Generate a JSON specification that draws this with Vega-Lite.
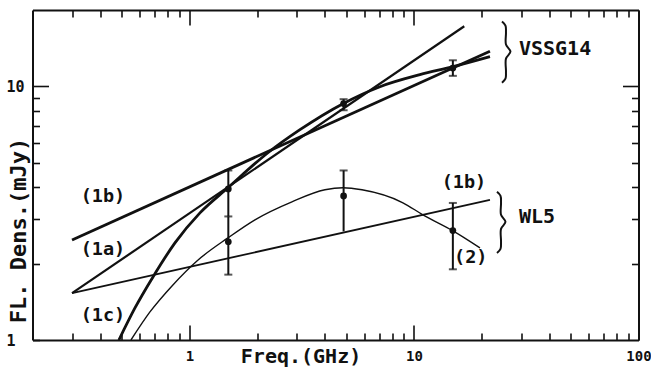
{
  "$schema": "https://vega.github.io/schema/vega-lite/v6.json",
  "width": 606,
  "height": 330,
  "autosize": {"type": "none"},
  "padding": {"left": 32.5, "top": 10, "right": 12.5, "bottom": 28},
  "background": "white",
  "config": {"view": {"stroke": null}, "font": "DejaVu Sans Mono"},
  "datasets": {
    "lines": [
      {"series": "V1a", "f": 0.3, "S": 1.53}, {"series": "V1a", "f": 16.75, "S": 17.26},
      {"series": "V1b", "f": 0.3, "S": 2.48}, {"series": "V1b", "f": 21.8, "S": 13.75},
      {"series": "V1c", "f": 0.485, "S": 1.0}, {"series": "V1c", "f": 0.572, "S": 1.338},
      {"series": "V1c", "f": 0.688, "S": 1.773}, {"series": "V1c", "f": 0.862, "S": 2.415},
      {"series": "V1c", "f": 1.114, "S": 3.171}, {"series": "V1c", "f": 1.484, "S": 3.982},
      {"series": "V1c", "f": 2.237, "S": 5.474}, {"series": "V1c", "f": 3.107, "S": 6.747},
      {"series": "V1c", "f": 4.828, "S": 8.545}, {"series": "V1c", "f": 7.058, "S": 9.97},
      {"series": "V1c", "f": 10.63, "S": 11.12}, {"series": "V1c", "f": 14.92, "S": 11.96},
      {"series": "V1c", "f": 21.8, "S": 13.1},
      {"series": "W1b", "f": 0.3, "S": 1.53}, {"series": "W1b", "f": 21.8, "S": 3.57},
      {"series": "W2", "f": 0.549, "S": 1.0}, {"series": "W2", "f": 0.667, "S": 1.29},
      {"series": "W2", "f": 0.844, "S": 1.649}, {"series": "W2", "f": 1.08, "S": 2.05},
      {"series": "W2", "f": 1.484, "S": 2.527}, {"series": "W2", "f": 1.958, "S": 2.978},
      {"series": "W2", "f": 2.861, "S": 3.506}, {"series": "W2", "f": 4.014, "S": 3.91},
      {"series": "W2", "f": 4.828, "S": 3.982}, {"series": "W2", "f": 5.867, "S": 3.91},
      {"series": "W2", "f": 8.93, "S": 3.475}, {"series": "W2", "f": 10.96, "S": 3.115},
      {"series": "W2", "f": 14.92, "S": 2.694}, {"series": "W2", "f": 19.68, "S": 2.308}
    ],
    "errs": [
      {"src": "VSSG14", "f": 1.49, "lo": 3.07, "hi": 4.66},
      {"src": "WL5", "f": 1.49, "lo": 1.81, "hi": 3.07},
      {"src": "VSSG14", "f": 4.86, "lo": 8.05, "hi": 8.9},
      {"src": "WL5", "f": 4.86, "lo": 2.68, "hi": 4.66},
      {"src": "VSSG14", "f": 14.9, "lo": 11.0, "hi": 12.67},
      {"src": "WL5", "f": 14.9, "lo": 1.9, "hi": 3.47}
    ],
    "caps": [
      {"f": 1.49, "S": 4.66}, {"f": 1.49, "S": 1.81}, {"f": 1.49, "S": 3.07},
      {"f": 4.86, "S": 8.9}, {"f": 4.86, "S": 8.05}, {"f": 4.86, "S": 4.66},
      {"f": 14.9, "S": 12.67}, {"f": 14.9, "S": 11.0}, {"f": 14.9, "S": 3.47}, {"f": 14.9, "S": 1.9}
    ],
    "pts": [
      {"src": "VSSG14", "f": 1.49, "S": 3.94}, {"src": "VSSG14", "f": 4.86, "S": 8.55},
      {"src": "VSSG14", "f": 14.9, "S": 11.8},
      {"src": "WL5", "f": 1.49, "S": 2.44}, {"src": "WL5", "f": 4.86, "S": 3.7},
      {"src": "WL5", "f": 14.9, "S": 2.7}
    ],
    "labels": [
      {"t": "(1b)", "f": 0.412, "S": 3.7}, {"t": "(1a)", "f": 0.412, "S": 2.29},
      {"t": "(1c)", "f": 0.412, "S": 1.255}, {"t": "(1b)", "f": 16.7, "S": 4.2},
      {"t": "(2)", "f": 17.9, "S": 2.13}
    ],
    "names": [
      {"t": "VSSG14", "f": 42.5, "S": 14.09}, {"t": "WL5", "f": 35.3, "S": 3.045}
    ],
    "braces": [
      {"b": "VSSG14", "i": 0, "f": 24.66, "S": 18.01},
      {"b": "VSSG14", "i": 1, "f": 25.56, "S": 17.36},
      {"b": "VSSG14", "i": 2, "f": 25.69, "S": 16.29},
      {"b": "VSSG14", "i": 3, "f": 25.69, "S": 14.61},
      {"b": "VSSG14", "i": 4, "f": 26.9, "S": 13.71},
      {"b": "VSSG14", "i": 5, "f": 25.69, "S": 12.86},
      {"b": "VSSG14", "i": 6, "f": 25.69, "S": 11.43},
      {"b": "VSSG14", "i": 7, "f": 25.56, "S": 10.72},
      {"b": "VSSG14", "i": 8, "f": 24.66, "S": 10.34},
      {"b": "WL5", "i": 0, "f": 23.43, "S": 3.84},
      {"b": "WL5", "i": 1, "f": 24.29, "S": 3.702},
      {"b": "WL5", "i": 2, "f": 24.42, "S": 3.474},
      {"b": "WL5", "i": 3, "f": 24.42, "S": 3.115},
      {"b": "WL5", "i": 4, "f": 25.56, "S": 2.923},
      {"b": "WL5", "i": 5, "f": 24.42, "S": 2.743},
      {"b": "WL5", "i": 6, "f": 24.42, "S": 2.437},
      {"b": "WL5", "i": 7, "f": 24.29, "S": 2.287},
      {"b": "WL5", "i": 8, "f": 23.43, "S": 2.205}
    ]
  },
  "resolve": {"axis": {"x": "independent", "y": "independent"}},
  "layer": [
    {
      "data": {"name": "lines"},
      "transform": [{"filter": "datum.series == 'V1b' || datum.series == 'V1c'"}],
      "mark": {"type": "line", "interpolate": "monotone", "color": "#111", "strokeWidth": 2.8, "clip": true},
      "encoding": {
        "x": {"field": "f", "type": "quantitative",
          "scale": {"type": "log", "domain": [0.2, 100], "nice": false},
          "axis": {
            "orient": "bottom",
            "values": [0.3, 0.4, 0.5, 0.6, 0.7, 0.8, 0.9, 1, 2, 3, 4, 5, 6, 7, 8, 9, 10, 20, 30, 40, 50, 60, 70, 80, 90, 100],
            "grid": false,
            "tickSize": {"condition": {"test": "datum.value == 1 || datum.value == 10 || datum.value == 100", "value": -15}, "value": -7},
            "tickColor": "#111", "tickWidth": 1.6,
            "domainColor": "#111", "domainWidth": 2,
            "labelExpr": "datum.value == 1 || datum.value == 10 || datum.value == 100 ? format(datum.value, 'd') : ''",
            "labelFlush": false, "labelOverlap": false,
            "labelFont": "DejaVu Sans Mono", "labelFontWeight": "bold", "labelFontSize": 14,
            "labelColor": "#111", "labelPadding": 24,
            "title": "Freq.(GHz)", "titleFont": "DejaVu Sans Mono", "titleFontWeight": "bold",
            "titleFontSize": 20, "titleColor": "#111",
            "titleX": 268, "titleY": 16, "titleBaseline": "middle", "titleAlign": "center"
          }
        },
        "y": {"field": "S", "type": "quantitative",
          "scale": {"type": "log", "domain": [1, 20], "nice": false},
          "axis": {
            "orient": "left",
            "values": [1, 2, 3, 4, 5, 6, 7, 8, 9, 10],
            "grid": false,
            "tickSize": {"condition": {"test": "datum.value == 10", "value": -16}, "value": -7},
            "tickColor": "#111", "tickWidth": 1.6,
            "domainColor": "#111", "domainWidth": 2,
            "labelExpr": "datum.value == 1 || datum.value == 10 ? format(datum.value, 'd') : ''",
            "labelFlush": false, "labelOverlap": false,
            "labelFont": "DejaVu Sans Mono", "labelFontWeight": "bold", "labelFontSize": 15,
            "labelColor": "#111", "labelPadding": 24.5,
            "title": "FL. Dens.(mJy)", "titleFont": "DejaVu Sans Mono", "titleFontWeight": "bold",
            "titleFontSize": 22, "titleColor": "#111",
            "titleX": -14, "titleY": 220, "titleAngle": -90, "titleBaseline": "middle", "titleAlign": "center"
          }
        },
        "detail": {"field": "series"}
      }
    },
    {
      "data": {"name": "lines"},
      "transform": [{"filter": "datum.series == 'V1a'"}],
      "mark": {"type": "line", "color": "#111", "strokeWidth": 2.2, "clip": true},
      "encoding": {
        "x": {"field": "f", "type": "quantitative", "scale": {"type": "log", "domain": [0.2, 100], "nice": false}, "axis": null},
        "y": {"field": "S", "type": "quantitative", "scale": {"type": "log", "domain": [1, 20], "nice": false}, "axis": null}
      }
    },
    {
      "data": {"name": "lines"},
      "transform": [{"filter": "datum.series == 'W1b'"}],
      "mark": {"type": "line", "color": "#111", "strokeWidth": 1.8, "clip": true},
      "encoding": {
        "x": {"field": "f", "type": "quantitative", "scale": {"type": "log", "domain": [0.2, 100], "nice": false}, "axis": null},
        "y": {"field": "S", "type": "quantitative", "scale": {"type": "log", "domain": [1, 20], "nice": false}, "axis": null}
      }
    },
    {
      "data": {"name": "lines"},
      "transform": [{"filter": "datum.series == 'W2'"}],
      "mark": {"type": "line", "interpolate": "monotone", "color": "#111", "strokeWidth": 1.4, "clip": true},
      "encoding": {
        "x": {"field": "f", "type": "quantitative", "scale": {"type": "log", "domain": [0.2, 100], "nice": false}, "axis": null},
        "y": {"field": "S", "type": "quantitative", "scale": {"type": "log", "domain": [1, 20], "nice": false}, "axis": null}
      }
    },
    {
      "data": {"name": "errs"},
      "mark": {"type": "rule", "color": "#111", "strokeWidth": 2},
      "encoding": {
        "x": {"field": "f", "type": "quantitative", "scale": {"type": "log", "domain": [0.2, 100], "nice": false},
          "axis": {
            "orient": "top",
            "values": [0.3, 0.4, 0.5, 0.6, 0.7, 0.8, 0.9, 1, 2, 3, 4, 5, 6, 7, 8, 9, 10, 20, 30, 40, 50, 60, 70, 80, 90, 100],
            "grid": false, "labels": false, "title": null,
            "tickSize": {"condition": {"test": "datum.value == 1 || datum.value == 10 || datum.value == 100", "value": -15}, "value": -7},
            "tickColor": "#111", "tickWidth": 1.6,
            "domainColor": "#111", "domainWidth": 2
          }
        },
        "y": {"field": "lo", "type": "quantitative", "scale": {"type": "log", "domain": [1, 20], "nice": false},
          "axis": {
            "orient": "right",
            "values": [2, 3, 4, 5, 6, 7, 8, 9, 10],
            "grid": false, "labels": false, "title": null,
            "tickSize": {"condition": {"test": "datum.value == 10", "value": -16}, "value": -7},
            "tickColor": "#111", "tickWidth": 1.6,
            "domainColor": "#111", "domainWidth": 2
          }
        },
        "y2": {"field": "hi"}
      }
    },
    {
      "data": {"name": "caps"},
      "mark": {"type": "tick", "orient": "horizontal", "color": "#111", "size": 8, "thickness": 2},
      "encoding": {
        "x": {"field": "f", "type": "quantitative", "scale": {"type": "log", "domain": [0.2, 100], "nice": false}, "axis": null},
        "y": {"field": "S", "type": "quantitative", "scale": {"type": "log", "domain": [1, 20], "nice": false}, "axis": null}
      }
    },
    {
      "data": {"name": "pts"},
      "mark": {"type": "point", "filled": true, "color": "#111", "opacity": 1, "size": 45},
      "encoding": {
        "x": {"field": "f", "type": "quantitative", "scale": {"type": "log", "domain": [0.2, 100], "nice": false}, "axis": null},
        "y": {"field": "S", "type": "quantitative", "scale": {"type": "log", "domain": [1, 20], "nice": false}, "axis": null}
      }
    },
    {
      "data": {"name": "labels"},
      "mark": {"type": "text", "font": "DejaVu Sans Mono", "fontWeight": "bold", "fontSize": 18.5, "color": "#111", "align": "center", "baseline": "middle"},
      "encoding": {
        "x": {"field": "f", "type": "quantitative", "scale": {"type": "log", "domain": [0.2, 100], "nice": false}, "axis": null},
        "y": {"field": "S", "type": "quantitative", "scale": {"type": "log", "domain": [1, 20], "nice": false}, "axis": null},
        "text": {"field": "t"}
      }
    },
    {
      "data": {"name": "names"},
      "mark": {"type": "text", "font": "DejaVu Sans Mono", "fontWeight": "bold", "fontSize": 20, "color": "#111", "align": "center", "baseline": "middle"},
      "encoding": {
        "x": {"field": "f", "type": "quantitative", "scale": {"type": "log", "domain": [0.2, 100], "nice": false}, "axis": null},
        "y": {"field": "S", "type": "quantitative", "scale": {"type": "log", "domain": [1, 20], "nice": false}, "axis": null},
        "text": {"field": "t"}
      }
    },
    {
      "data": {"name": "braces"},
      "mark": {"type": "line", "interpolate": "catmull-rom", "color": "#111", "strokeWidth": 2},
      "encoding": {
        "x": {"field": "f", "type": "quantitative", "scale": {"type": "log", "domain": [0.2, 100], "nice": false}, "axis": null},
        "y": {"field": "S", "type": "quantitative", "scale": {"type": "log", "domain": [1, 20], "nice": false}, "axis": null},
        "detail": {"field": "b"},
        "order": {"field": "i", "type": "quantitative"}
      }
    }
  ]
}
